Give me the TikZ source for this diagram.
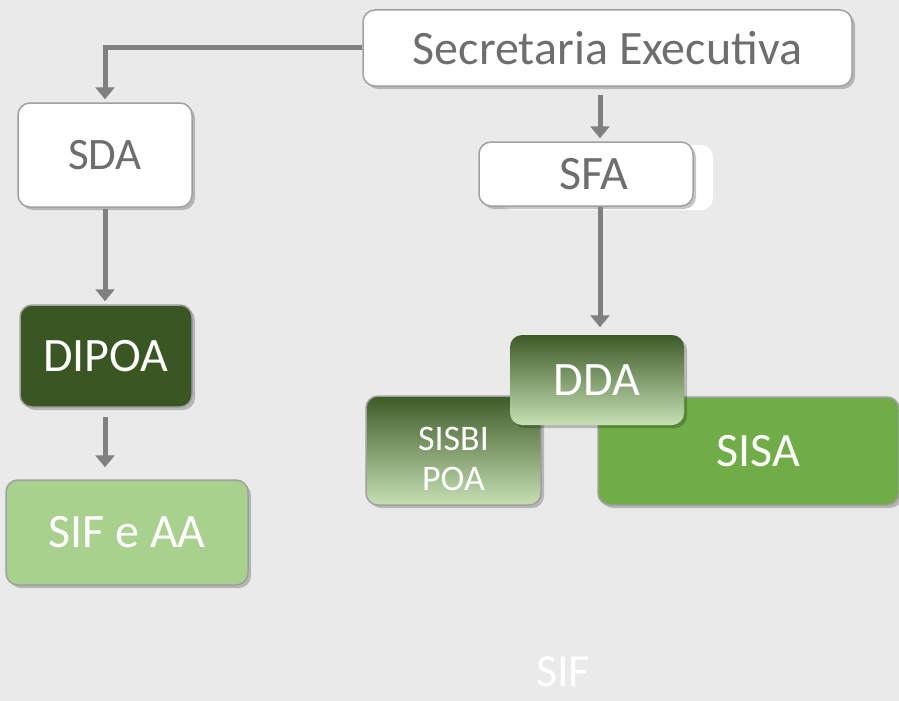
\documentclass[tikz,border=0pt]{standalone}
\usepackage{fontspec}
\setmainfont{Carlito}
\usetikzlibrary{arrows.meta,shadows}
\definecolor{bg}{HTML}{EAEAEA}
\definecolor{arrowgray}{HTML}{808080}
\definecolor{bordergray}{HTML}{A0A0A0}
\definecolor{textgray}{HTML}{6E6E6E}
\definecolor{darkgreen}{HTML}{3A5723}
\definecolor{lightgreen}{HTML}{A9D18E}
\definecolor{midgreen}{HTML}{70AD47}
\definecolor{gtop}{HTML}{3D5B27}
\definecolor{gbot}{HTML}{C6E0B4}
\tikzset{
  box/.style={rectangle, rounded corners=12pt, draw=bordergray, line width=1.5pt,
    inner sep=0pt, align=center,
    drop shadow={shadow xshift=3pt, shadow yshift=-3pt, fill=black, opacity=0.22}},
  whitebox/.style={box, fill=white, text=textgray},
  greenbox/.style={box, text=white},
  gradbox/.style={greenbox, top color=gtop, bottom color=gbot},
  arr/.style={draw=arrowgray, line width=5pt, -{Triangle[width=19pt,length=12pt]}},
  big/.style={font=\fontsize{48}{52}\selectfont},
}
\begin{document}
\begin{tikzpicture}[x=1pt,y=-1pt]
\fill[bg] (0,0) rectangle (899,701);
\useasboundingbox (0,0) rectangle (899,701);
\coordinate (ax) at (600,0);
% top
\node[whitebox, big, minimum width=489pt, minimum height=76pt] (sec) at (607.5,48) {Secretaria Executiva};
\node[rectangle, rounded corners=12pt, fill=white, minimum width=213pt, minimum height=65pt] (sfaw) at (606.5,177.5) {};
\node[whitebox, big, minimum width=214pt, minimum height=64pt] (sfa) at (586,174) {\hspace*{16pt}SFA};
% left column
\node[whitebox, font=\fontsize{45}{49}\selectfont, minimum width=174pt, minimum height=104pt] (sda) at (105,155) {SDA};
\node[greenbox, big, fill=darkgreen, minimum width=172pt, minimum height=102pt] (dipoa) at (106,356) {DIPOA};
\node[greenbox, big, fill=lightgreen, minimum width=242pt, minimum height=105pt] (sif) at (127,532.5) {SIF e AA};
% right cluster
\node[gradbox, minimum width=175pt, minimum height=109pt] (sisbi) at (453.5,450.5) {};
\node[text=white, align=center, font=\fontsize{36}{40}\selectfont, inner sep=0pt] (sisbit) at ([yshift=-8pt]sisbi.center) {SISBI\\POA};
\node[greenbox, big, fill=midgreen, minimum width=301pt, minimum height=108pt] (sisa) at (748.5,451) {\hspace*{20pt}SISA};
\node[gradbox, big, draw=none, minimum width=174pt, minimum height=90pt] (dda) at (597,380) {DDA};
% bottom label
\node[font=\fontsize{46}{50}\selectfont, text=white, inner sep=0pt] (siflbl) at (563,672) {SIF};
% arrows
\draw[arr, shorten >=3pt] (sec.west) -| (sda.north);
\draw[arr, shorten <=8pt, shorten >=3pt] (sec.south -| ax) -- (sfa.north -| ax);
\draw[arr, shorten <=0pt, shorten >=7pt] (sfa.south -| ax) -- (dda.north -| ax);
\draw[arr, shorten <=1pt, shorten >=3pt] (sda.south) -- (dipoa.north -| sda.south);
\draw[arr, shorten <=9pt, shorten >=12pt] (dipoa.south -| sda.south) -- (sif.north -| sda.south);
\end{tikzpicture}
\end{document}
